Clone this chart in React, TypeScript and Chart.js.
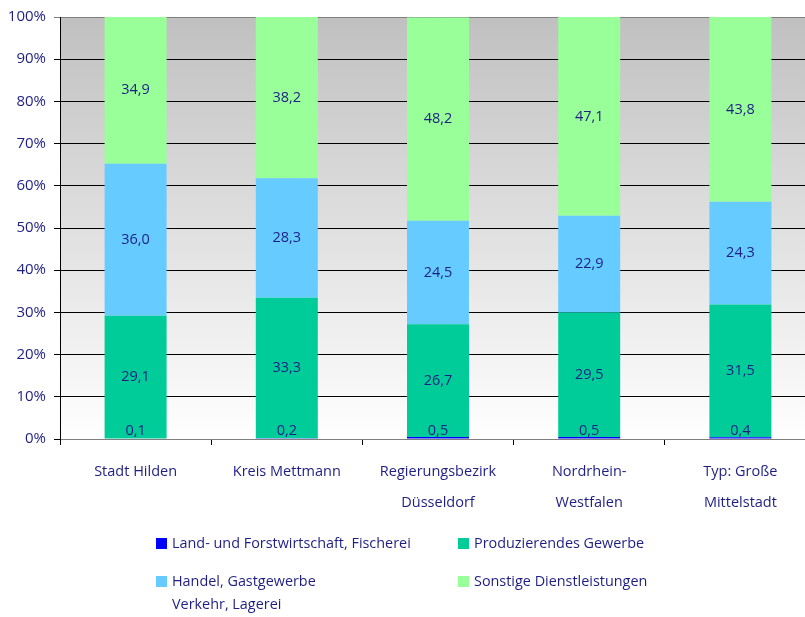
import React, { useEffect, useRef } from 'react';
import { Chart, registerables } from 'chart.js';

Chart.register(...registerables);

const categories: string[][] = [
  ['Stadt Hilden'],
  ['Kreis Mettmann'],
  ['Regierungsbezirk', 'Düsseldorf'],
  ['Nordrhein-', 'Westfalen'],
  ['Typ: Große', 'Mittelstadt'],
];

const seriesNames = [
  'Land- und Forstwirtschaft, Fischerei',
  'Produzierendes Gewerbe',
  'Handel, Gastgewerbe|Verkehr, Lagerei',
  'Sonstige Dienstleistungen',
];

const landForst = [0.1, 0.2, 0.5, 0.5, 0.4];
const produzierend = [29.1, 33.3, 26.7, 29.5, 31.5];
const handel = [36.0, 28.3, 24.5, 22.9, 24.3];
const sonstige = [34.9, 38.2, 48.2, 47.1, 43.8];

const seriesColors = ['#0000ff', '#00cc99', '#66ccff', '#99ff99'];
const yTickValues = [0, 10, 20, 30, 40, 50, 60, 70, 80, 90, 100];

const NAVY = '#1e1e85';
const FONT = '"Open Sans", sans-serif';

export default function App() {
  const canvasRef = useRef<HTMLCanvasElement | null>(null);

  useEffect(() => {
    const canvas = canvasRef.current;
    if (!canvas) return;

    const bgPlugin = {
      id: 'bgGradient',
      beforeDraw(chart: any) {
        const { ctx, chartArea } = chart;
        const g = ctx.createLinearGradient(0, chartArea.top, 0, chartArea.bottom);
        g.addColorStop(0, '#c0c0c0');
        g.addColorStop(1, '#ffffff');
        ctx.save();
        ctx.fillStyle = g;
        ctx.fillRect(chartArea.left, chartArea.top, chartArea.right - chartArea.left, chartArea.bottom - chartArea.top);
        ctx.restore();
      },
    };

    const labelPlugin = {
      id: 'valueLabels',
      afterDatasetsDraw(chart: any) {
        const { ctx } = chart;
        ctx.save();
        ctx.font = `14.5px ${FONT}`;
        ctx.fillStyle = NAVY;
        ctx.textAlign = 'center';
        ctx.textBaseline = 'middle';
        chart.data.datasets.forEach((ds: any, i: number) => {
          const meta = chart.getDatasetMeta(i);
          meta.data.forEach((el: any, j: number) => {
            const v = ds.data[j] as number;
            const txt = v.toFixed(1).replace('.', ',');
            const y = i === 0 ? el.base - 8 : (el.y + el.base) / 2;
            ctx.fillText(txt, el.x, y);
          });
        });
        ctx.restore();
      },
    };

    const legendPlugin = {
      id: 'customLegend',
      afterDraw(chart: any) {
        const { ctx } = chart;
        const items = [
          { x: 156, y: 538, color: seriesColors[0], lines: [seriesNames[0]] },
          { x: 458, y: 538, color: seriesColors[1], lines: [seriesNames[1]] },
          { x: 156, y: 576, color: seriesColors[2], lines: seriesNames[2].split('|') },
          { x: 458, y: 576, color: seriesColors[3], lines: [seriesNames[3]] },
        ];
        ctx.save();
        ctx.font = `14.4px ${FONT}`;
        ctx.textAlign = 'left';
        ctx.textBaseline = 'middle';
        items.forEach((it) => {
          ctx.fillStyle = it.color;
          ctx.fillRect(it.x, it.y, 11, 11);
          ctx.fillStyle = NAVY;
          it.lines.forEach((ln, k) => {
            ctx.fillText(ln, it.x + 16, it.y + 5.5 + k * 23);
          });
        });
        ctx.restore();
      },
    };

    const chart = new Chart(canvas, {
      type: 'bar',
      data: {
        labels: categories,
        datasets: [
          { label: seriesNames[0], data: landForst, backgroundColor: seriesColors[0] },
          { label: seriesNames[1], data: produzierend, backgroundColor: seriesColors[1] },
          { label: seriesNames[2], data: handel, backgroundColor: seriesColors[2] },
          { label: seriesNames[3], data: sonstige, backgroundColor: seriesColors[3] },
        ],
      },
      options: {
        responsive: false,
        animation: false,
        devicePixelRatio: 1,
        layout: { padding: { top: 13, right: 0, left: 0, bottom: 0 } },
        datasets: {
          bar: { categoryPercentage: 1, barPercentage: 0.41, borderWidth: 0 },
        },
        plugins: {
          legend: { display: false },
          tooltip: { enabled: false },
          title: { display: false },
        },
        scales: {
          x: {
            stacked: true,
            offset: true,
            grid: {
              offset: true,
              drawOnChartArea: false,
              drawTicks: true,
              tickLength: 6,
              color: '#000000',
            },
            border: { display: true, color: '#808080', width: 1 },
            ticks: {
              color: NAVY,
              padding: 12,
              font: { family: FONT, size: 14.5, lineHeight: 2.1 },
              maxRotation: 0,
              autoSkip: false,
            },
            afterFit(scale: any) {
              scale.height = 178;
            },
          },
          y: {
            stacked: true,
            min: 0,
            max: 100,
            afterBuildTicks(scale: any) {
              scale.ticks = yTickValues.map((v) => ({ value: v }));
            },
            grid: {
              color: (c: any) => (c.tick && c.tick.value === 100 ? '#808080' : '#000000'),
              tickLength: 6,
              drawTicks: true,
            },
            border: { display: true, color: '#000000', width: 1 },
            ticks: {
              color: NAVY,
              padding: 8,
              font: { family: FONT, size: 15 },
              callback: (v: any) => `${v}%`,
            },
            afterFit(scale: any) {
              scale.width = 60;
            },
          },
        },
      },
      plugins: [bgPlugin, labelPlugin, legendPlugin],
    });

    return () => {
      chart.destroy();
    };
  }, []);

  return (
    <div style={{ position: 'fixed', left: 0, top: 0, width: 805, height: 617, overflow: 'hidden', background: '#ffffff' }}>
      <canvas ref={canvasRef} width={816} height={617} style={{ display: 'block' }} />
    </div>
  );
}
